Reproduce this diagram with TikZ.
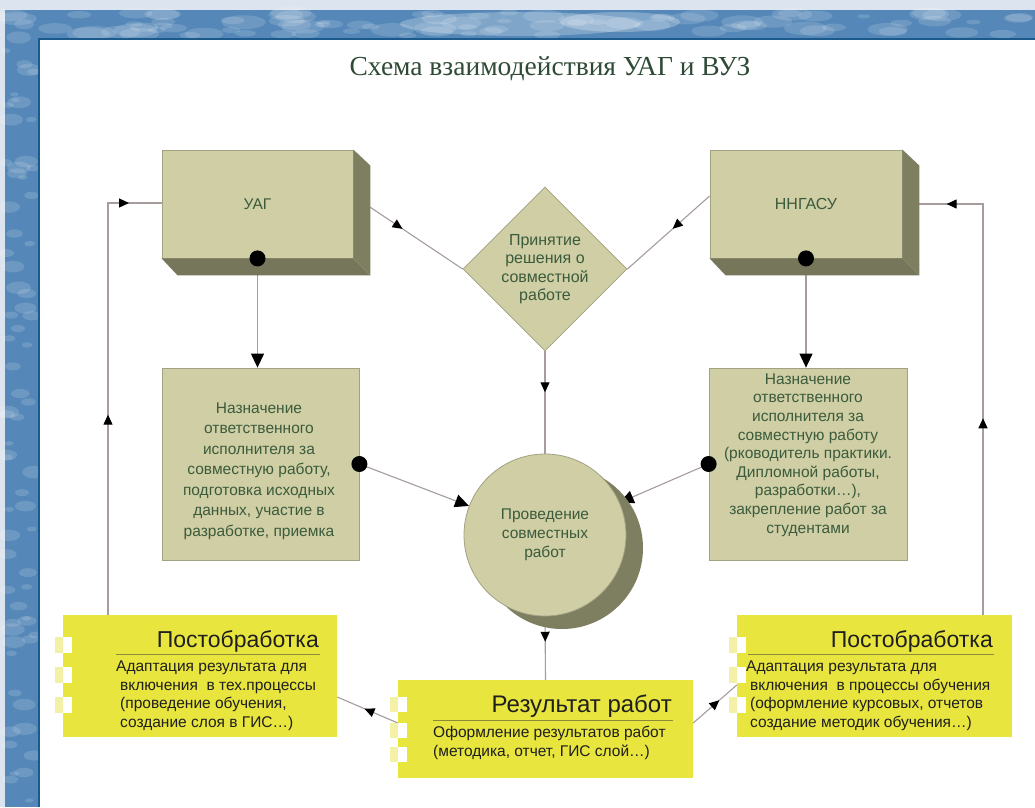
\documentclass[tikz,border=0pt]{standalone}
\usepackage{fontspec}
\setmainfont{Liberation Serif}
\newfontfamily\arialf{Liberation Sans}
\usetikzlibrary{shapes.geometric,arrows.meta,decorations.markings,calc}
\pgfdeclarelayer{bottom}
\pgfdeclarelayer{background}
\pgfsetlayers{bottom,background,main}

\definecolor{khaki}{HTML}{CFCEA4}
\definecolor{khakiside}{HTML}{7E7E60}
\definecolor{khakibot}{HTML}{76765A}
\definecolor{khakiedge}{HTML}{A2A283}
\definecolor{lineg}{HTML}{A69C9C}
\definecolor{ygold}{HTML}{E8E53E}
\definecolor{ypale}{HTML}{F3F0A8}
\definecolor{greentext}{HTML}{3B5B3C}
\definecolor{titlegreen}{HTML}{2F4A36}
\definecolor{bgblue}{HTML}{5588B8}
\definecolor{bglight}{HTML}{DCE4EF}
\definecolor{frameblue}{HTML}{1D5A8C}
\definecolor{ulinecol}{HTML}{8A8A3A}

\tikzset{
  front/.style={draw=khakiedge, fill=khaki, line width=0.8pt, inner sep=0},
  ktext/.style={text=greentext, align=center, inner sep=0},
  dotnode/.style={circle, fill=black, minimum size=16pt, inner sep=0},
  conn/.style={draw=lineg, line width=1.1pt},
  bigtip/.style={-{Triangle[length=14pt,width=13pt,color=black]}},
  midarrow/.style={postaction={decorate}, decoration={markings,
      mark=at position #1 with {\arrow{Triangle[length=10pt,width=9pt,color=black]}}}},
  ybox/.style={fill=ygold, inner sep=0},
  ytitle/.style={anchor=base east, inner sep=0, text=black!88, font=\arialf\fontsize{23}{26}\selectfont},
  ybody/.style={anchor=north west, align=left, inner sep=0, text=black!88, font=\arialf\fontsize{15.5}{18.5}\selectfont},
  uline/.style={draw=ulinecol, line width=1pt},
}

\begin{document}
\begin{tikzpicture}[x=1pt,y=-1pt]
\useasboundingbox (0,0) rectangle (1035,807);

% ---------- page background ----------
\begin{pgfonlayer}{bottom}
  \fill[bglight] (0,0) rectangle (1035,807);
  \fill[bgblue] (5,10) rectangle (1035,38);
  \fill[bgblue] (5,10) rectangle (38,807);
  \pgfmathsetseed{7}
  \foreach \i in {1,...,70} {
    \pgfmathsetmacro\xx{5+rnd*30}
    \pgfmathsetmacro\yy{12+rnd*790}
    \pgfmathsetmacro\rr{4+rnd*9}
    \fill[white, opacity=0.14] (\xx,\yy) ellipse ({\rr} and {\rr*0.5});
  }
  \foreach \i in {1,...,90} {
    \pgfmathsetmacro\xx{8+rnd*1025}
    \pgfmathsetmacro\yy{12+rnd*24}
    \pgfmathsetmacro\rr{4+rnd*10}
    \fill[white, opacity=0.14] (\xx,\yy) ellipse ({\rr*1.6} and {\rr*0.5});
  }
  \fill[white, opacity=0.25] (520,24) ellipse (120 and 12);
  \fill[white, opacity=0.25] (620,22) ellipse (60 and 10);
  \fill[white] (38,38) rectangle (1035,807);
  \draw[frameblue, line width=2pt] (39,807) -- (39,39) -- (1035,39);
\end{pgfonlayer}

% ---------- title ----------
\node[text=titlegreen, font=\fontsize{27.5}{32}\selectfont, inner sep=0] (title) at (550,69) {Схема взаимодействия УАГ и ВУЗ};

% ---------- 3D boxes ----------
\node[front, minimum width=191, minimum height=108] (uag) at (257.5,204) {};
\fill[khakiside] (uag.north east) -- ($(uag.north east)+(17,16)$) -- ($(uag.south east)+(17,17)$) -- (uag.south east) -- cycle;
\fill[khakibot] (uag.south west) -- ($(uag.south west)+(16,17)$) -- ($(uag.south east)+(17,17)$) -- (uag.south east) -- cycle;
\node[ktext, font=\arialf\fontsize{15.5}{17}\selectfont] (uagtext) at (uag.center) {УАГ};

\node[front, minimum width=192, minimum height=108] (ngasu) at (806,204) {};
\fill[khakiside] (ngasu.north east) -- ($(ngasu.north east)+(17,16)$) -- ($(ngasu.south east)+(17,17)$) -- (ngasu.south east) -- cycle;
\fill[khakibot] (ngasu.south west) -- ($(ngasu.south west)+(16,17)$) -- ($(ngasu.south east)+(17,17)$) -- (ngasu.south east) -- cycle;
\node[ktext, font=\arialf\fontsize{16}{17}\selectfont] (ngasutext) at (ngasu.center) {ННГАСУ};

% ---------- decision diamond ----------
\node[diamond, aspect=1, draw=khakiedge, fill=khaki, line width=0.8pt, minimum width=164, minimum height=164, inner sep=0,
      text=greentext, align=center, font=\arialf\fontsize{16}{18.5}\selectfont] (decision) at (545,269)
  {Принятие\\решения о\\совместной\\работе};

% ---------- middle boxes ----------
\node[front, minimum width=197, minimum height=192] (lbox) at (260.5,464) {};
\node[ktext, font=\arialf\fontsize{15.5}{20.5}\selectfont] (lboxtext) at (259,471)
  {Назначение\\ответственного\\исполнителя за\\совместную работу,\\подготовка исходных\\данных, участие в\\разработке, приемка};

\node[front, minimum width=198, minimum height=192] (rbox) at (808,464) {};
\node[ktext, font=\arialf\fontsize{15.5}{18.6}\selectfont] (rboxtext) at (808,455)
  {Назначение\\ответственного\\исполнителя за\\совместную работу\\(рководитель практики.\\Дипломной работы,\\разработки…),\\закрепление работ за\\студентами};

% ---------- circle ----------
\node[circle, fill=khakiside, minimum size=162, inner sep=0] (workshadow) at (562,548) {};
\node[circle, draw=khakiedge, fill=khaki, line width=0.8pt, minimum size=162, inner sep=0,
      text=greentext, align=center, font=\arialf\fontsize{15.5}{19}\selectfont] (work) at (545,535)
  {Проведение\\совместных\\работ};

% ---------- yellow boxes ----------
\node[ybox, minimum width=274, minimum height=122] (lpost) at (200,676) {};
\node[ybox, minimum width=295, minimum height=98] (res) at (545.5,729) {};
\node[ybox, minimum width=275, minimum height=122] (rpost) at (874.5,676) {};

% checker marks
\foreach \yy in {637,667,697} {
  \fill[ypale] (55,\yy) rectangle ++(8,16);
  \fill[white] (63,\yy) rectangle ++(9,16);
  \fill[ypale] (729,\yy) rectangle ++(8,16);
  \fill[white] (737,\yy) rectangle ++(9,16);
}
\foreach \yy in {697,723,747} {
  \fill[ypale] (390,\yy) rectangle ++(8,15);
  \fill[white] (398,\yy) rectangle ++(9,15);
}

\node[ytitle] (lposttitle) at (319,647) {Постобработка};
\draw[uline] ($(lposttitle.base east)+(1,7)$) -- ++(-204,0);
\node[ybody] (lpostbody) at (116,661)
  {Адаптация результата для\\\hspace*{4pt}включения\ \ в тех.процессы\\\hspace*{4pt}(проведение обучения,\\\hspace*{4pt}создание слоя в ГИС…)};

\node[ytitle, font=\arialf\fontsize{24}{26}\selectfont] (restitle) at (672,712) {Результат работ};
\draw[uline] ($(restitle.base east)+(1,8)$) -- ++(-240,0);
\node[ybody] (resbody) at (433,726)
  {Оформление результатов работ\\(методика, отчет, ГИС слой…)};

\node[ytitle] (rposttitle) at (993,647) {Постобработка};
\draw[uline] ($(rposttitle.base east)+(1,7)$) -- ++(-246,0);
\node[ybody] (rpostbody) at (746,661)
  {Адаптация результата для\\\hspace*{4pt}включения\ \ в процессы обучения\\\hspace*{4pt}(оформление курсовых, отчетов\\\hspace*{4pt}создание методик обучения…)};

% ---------- dots ----------
\node[dotnode] (uagdot) at (uag.south) {};
\node[dotnode] (ngasudot) at (ngasu.south) {};
\node[dotnode] (ldot) at (lbox.east) {};
\node[dotnode] (rdot) at (rbox.west) {};

% ---------- connectors ----------
\coordinate (lturn) at (108,203);
\coordinate (rturn) at (983,204);
\begin{pgfonlayer}{background}
  \draw[conn, midarrow=0.45] ($(uag.east)+(0,-8)$) -- (decision.west);
  \draw[conn, midarrow=0.45] ($(ngasu.west)+(0,-8)$) -- (decision.east);
  \draw[conn, bigtip] (uagdot) -- (uagdot |- lbox.north);
  \draw[conn, bigtip] (ngasudot) -- (ngasudot |- rbox.north);
  \draw[conn, bigtip] (ldot) -- (work);
  \draw[conn, bigtip] (rdot) -- (work);
  \draw[conn, midarrow=0.4] (decision.south) -- (work.north);
  \draw[conn, midarrow=0.4] (work.south) -- (res.north);
  \draw[conn, midarrow=0.55] ($(res.west)+(0,-6)$) -- ($(lpost.east)+(0,21)$);
  \draw[conn, midarrow=0.6] ($(res.east)+(0,-6)$) -- ($(rpost.west)+(0,9)$);
  \draw[conn, postaction={decorate}, decoration={markings,
      mark=at position 0.43 with {\arrow{Triangle[length=10pt,width=9pt,color=black]}},
      mark=at position 0.93 with {\arrow{Triangle[length=10pt,width=9pt,color=black]}}}]
    (lpost.north -| lturn) -- (lturn) -- (lturn -| uag.west);
  \draw[conn, postaction={decorate}, decoration={markings,
      mark=at position 0.40 with {\arrow{Triangle[length=10pt,width=9pt,color=black]}},
      mark=at position 0.91 with {\arrow{Triangle[length=10pt,width=9pt,color=black]}}}]
    (rpost.north -| rturn) -- (rturn) -- (rturn -| ngasu.east);
\end{pgfonlayer}
\end{tikzpicture}
\end{document}
